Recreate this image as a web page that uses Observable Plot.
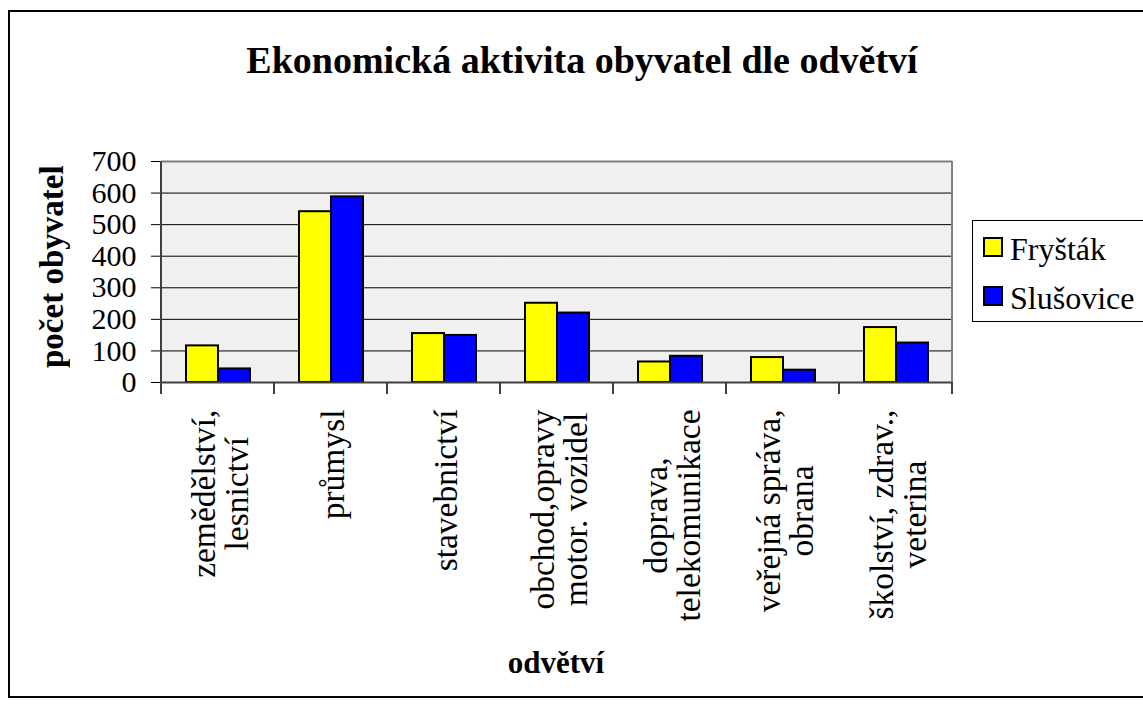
<!DOCTYPE html>
<html>
<head>
<meta charset="utf-8">
<script src="https://cdn.jsdelivr.net/npm/d3@7"></script>
<script src="https://cdn.jsdelivr.net/npm/@observablehq/plot@0.6"></script>
<style>
  body { margin: 0; background: #fff; }
  #wrap { position: relative; width: 1143px; height: 709px; overflow: hidden; font-family: "Liberation Serif", "Times New Roman", serif; color: #000; }
  #wrap svg { position: absolute; left: 0; top: 0; }
  #frame { position: absolute; left: 8px; top: 10px; width: 1145px; height: 688px; border: 2px solid #000; box-sizing: border-box; }
  .abs { position: absolute; white-space: nowrap; }
  #title { left: 82px; top: 41px; width: 1000px; text-align: center; font-weight: bold; font-size: 38px; line-height: 38px; }
  #ylabel { left: 36px; top: 117px; width: 33px; height: 300px; text-align: center; font-weight: bold; font-size: 33px; line-height: 33px; writing-mode: vertical-rl; transform: rotate(180deg); }
  #xlabel { left: 356px; top: 647px; width: 400px; text-align: center; font-weight: bold; font-size: 31px; line-height: 31px; }
  #legend { position: absolute; left: 972px; top: 220px; width: 185px; height: 102px; border: 1px solid #000; box-sizing: border-box; background: #fff; }
  .sw { position: absolute; width: 20px; height: 20px; border: 2px solid #000; box-sizing: border-box; }
  .lt { position: absolute; font-size: 32px; line-height: 32px; }
</style>
</head>
<body>
<div id="wrap"></div>
<script>
// ---- data ----
const categories = ["zemědělství, lesnictví", "průmysl", "stavebnictví", "obchod,opravy motor. vozidel", "doprava, telekomunikace", "veřejná správa, obrana", "školství, zdrav., veterina"];
const categoryLabels = ["zemědělství,\nlesnictví", "průmysl", "stavebnictví", "obchod,opravy\nmotor. vozidel", "doprava,\ntelekomunikace", "veřejná správa,\nobrana", "školství, zdrav.,\nveterina"];
const series = ["Fryšták", "Slušovice"];
const frystak = [116, 541, 155, 251, 65, 79, 174];
const slusovice = [43, 588, 149, 220, 83, 39, 125];
const yTicks = [0, 100, 200, 300, 400, 500, 600, 700];
const seriesColors = ["#ffff00", "#0000ff"];
const titleText = "Ekonomická aktivita obyvatel dle odvětví";
const yTitle = "počet obyvatel";
const xTitle = "odvětví";

const rows = categories.flatMap((c, i) => [
  {cat: c, series: series[0], value: frystak[i]},
  {cat: c, series: series[1], value: slusovice[i]}
]);

// measure label widths for centering the rotated multi-line labels
const LABEL_SIZE = 33.5;
const ctx = document.createElement("canvas").getContext("2d");
ctx.font = LABEL_SIZE + "px 'Liberation Serif'";
const labelMarks = categories.map((c, i) => {
  const lines = categoryLabels[i].split("\n");
  const maxW = Math.max(...lines.map(l => ctx.measureText(l).width));
  return Plot.text([c], {
    fx: d => d,
    text: () => categoryLabels[i],
    frameAnchor: "bottom",
    rotate: -90,
    textAnchor: "middle",
    lineAnchor: "middle",
    lineHeight: 0.97,
    fontSize: LABEL_SIZE,
    fontFamily: "'Liberation Serif', 'Times New Roman', serif",
    fill: "#000",
    dx: 3,
    dy: 27 + maxW / 2
  });
});

const chart = Plot.plot({
  width: 1143,
  height: 709,
  marginLeft: 161,
  marginRight: 191,
  marginTop: 161,
  marginBottom: 327,
  style: {fontFamily: "'Liberation Serif', 'Times New Roman', serif", fontSize: "30px", background: "transparent", overflow: "visible", color: "#000"},
  fx: {domain: categories, padding: 0, axis: null, label: null},
  x: {domain: series, paddingOuter: 0.74, paddingInner: 0, axis: null},
  y: {domain: [0, 700], ticks: 7, tickFormat: d => String(d), tickSize: 10, tickPadding: 15, label: null},
  color: {domain: series, range: seriesColors},
  marks: [
    Plot.frame({fill: "#f0f0f0", stroke: null}),
    Plot.ruleY(yTicks.slice(1, -1), {stroke: "#000", strokeWidth: 1}),
    Plot.ruleY([700], {stroke: "#808080", strokeWidth: 2}),
    Plot.barY(rows, {fx: "cat", x: "series", y: "value", fill: "series", stroke: "#000", strokeWidth: 2}),
    Plot.ruleY([0], {stroke: "#404040", strokeWidth: 2}),
    ...labelMarks
  ]
});

// axis decorations positioned via the chart's own scales
const fx = chart.scale("fx");
const ys = chart.scale("y");
const svg = d3.select(chart);
const y0 = ys.apply(0), yTop = ys.apply(700);
const bounds = categories.map(c => fx.apply(c));
bounds.push(fx.apply(categories[categories.length - 1]) + fx.bandwidth);
const g = svg.append("g");
g.selectAll("line.tk").data(bounds).join("line")
  .attr("x1", d => d).attr("x2", d => d)
  .attr("y1", y0).attr("y2", y0 + 12)
  .attr("stroke", "#404040").attr("stroke-width", 2);
g.append("line").attr("x1", bounds[0]).attr("x2", bounds[0]).attr("y1", yTop).attr("y2", y0)
  .attr("stroke", "#404040").attr("stroke-width", 2);
g.append("line").attr("x1", bounds[bounds.length - 1]).attr("x2", bounds[bounds.length - 1]).attr("y1", yTop).attr("y2", y0)
  .attr("stroke", "#808080").attr("stroke-width", 2);

const wrap = document.getElementById("wrap");
wrap.appendChild(chart);

const add = (id, text) => {
  const d = document.createElement("div");
  d.id = id; d.className = "abs"; d.textContent = text;
  wrap.appendChild(d);
  return d;
};
const frame = document.createElement("div"); frame.id = "frame"; wrap.appendChild(frame);
add("title", titleText);
add("ylabel", yTitle);
add("xlabel", xTitle);

// legend using the chart's color scale
const color = chart.scale("color");
const legend = document.createElement("div"); legend.id = "legend";
series.forEach((s, i) => {
  const sw = document.createElement("div"); sw.className = "sw";
  sw.style.left = "10px"; sw.style.top = (16 + i * 49) + "px";
  sw.style.background = color.apply(s);
  legend.appendChild(sw);
  const t = document.createElement("div"); t.className = "lt";
  t.style.left = "37px"; t.style.top = (12 + i * 49) + "px";
  t.textContent = s;
  legend.appendChild(t);
});
wrap.appendChild(legend);
</script>
</body>
</html>
